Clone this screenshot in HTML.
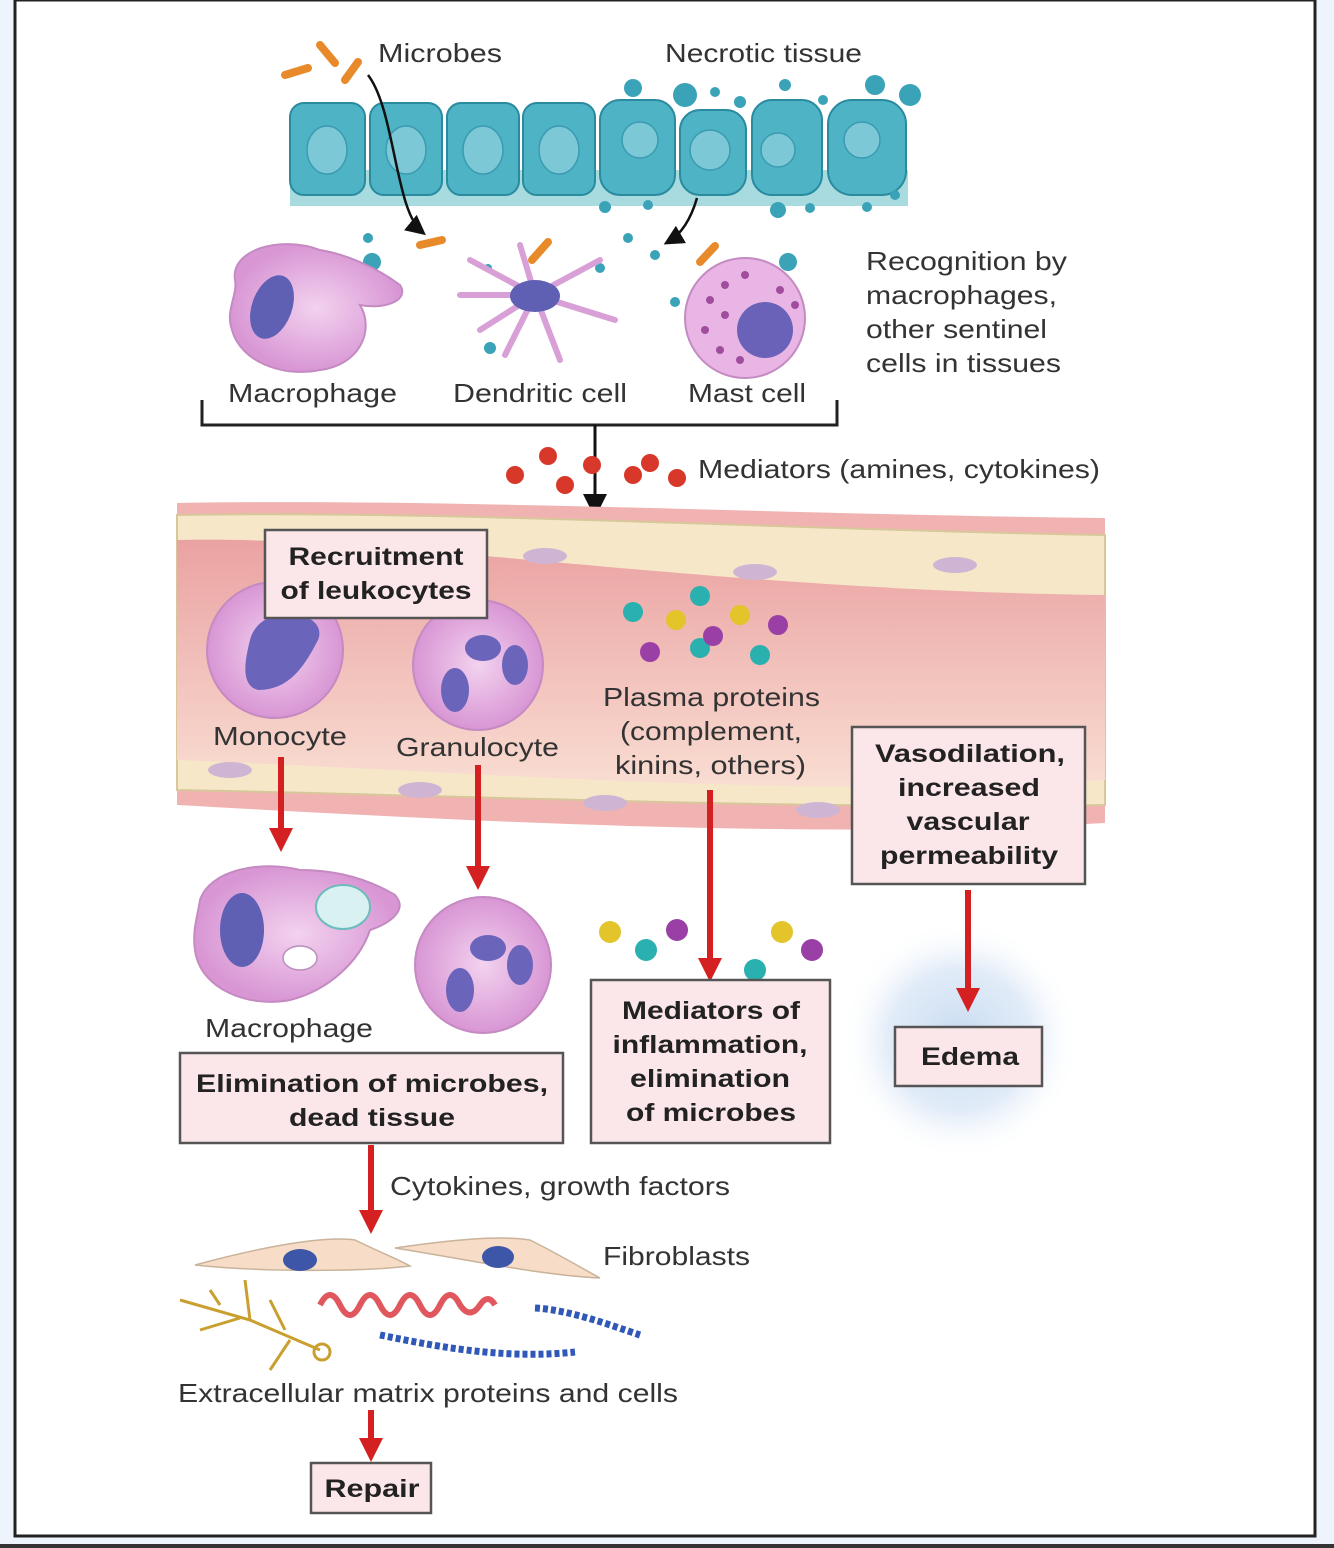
<!DOCTYPE html>
<html><head><meta charset="utf-8"><style>
html,body{margin:0;padding:0;background:#eef4fc;}
svg{display:block}
text{font-family:"Liberation Sans",sans-serif;fill:#333;}
.l{font-size:26px;}
.b{font-size:25px;font-weight:bold;fill:#222;text-anchor:middle;}
.box{fill:#fbe6ea;stroke:#555;stroke-width:2.5;}
.ep{fill:#4fb3c6;stroke:#2a8a9e;stroke-width:2;}
.nuc{fill:#7cc8d6;stroke:#3a9bb0;stroke-width:1.5;}
.ra{stroke:#d42020;stroke-width:6;fill:none;}
</style></head><body>
<svg width="1334" height="1548" viewBox="0 0 1334 1548" xmlns="http://www.w3.org/2000/svg">
<defs>
<marker id="rh" markerWidth="4" markerHeight="4" refX="2" refY="2" orient="auto" markerUnits="strokeWidth"><path d="M0,0 L4,2 L0,4 z" fill="#d42020"/></marker>
<marker id="bh" markerWidth="8" markerHeight="8" refX="6" refY="4" orient="auto" markerUnits="strokeWidth"><path d="M0,0 L8,4 L0,8 z" fill="#111"/></marker>
<radialGradient id="glow"><stop offset="0" stop-color="#c9dcf2"/><stop offset="0.6" stop-color="#e2ecf8"/><stop offset="1" stop-color="#fff" stop-opacity="0"/></radialGradient>
<linearGradient id="lum" x1="0" y1="0" x2="0" y2="1"><stop offset="0" stop-color="#eaa2a2"/><stop offset="1" stop-color="#f9ddd2"/></linearGradient>
<radialGradient id="cellg"><stop offset="0" stop-color="#f3d2ef"/><stop offset="1" stop-color="#d896d4"/></radialGradient>
</defs>
<rect x="0" y="0" width="1334" height="1548" fill="#eef4fc"/>
<rect x="15" y="0" width="1300" height="1536" fill="#fff" stroke="#222" stroke-width="3"/>
<rect x="0" y="1544" width="1334" height="4" fill="#333"/>

<rect x="290" y="170" width="618" height="36" fill="#a7dbe0"/>
<g>
<rect class="ep" x="290" y="103" width="75" height="92" rx="14"/><ellipse class="nuc" cx="327" cy="150" rx="20" ry="24"/>
<rect class="ep" x="370" y="103" width="72" height="92" rx="14"/><ellipse class="nuc" cx="406" cy="150" rx="20" ry="24"/>
<rect class="ep" x="447" y="103" width="72" height="92" rx="14"/><ellipse class="nuc" cx="483" cy="150" rx="20" ry="24"/>
<rect class="ep" x="523" y="103" width="72" height="92" rx="14"/><ellipse class="nuc" cx="559" cy="150" rx="20" ry="24"/>
<rect class="ep" x="600" y="100" width="75" height="95" rx="20" fill="#46a9bb"/><circle class="nuc" cx="640" cy="140" r="18"/>
<rect class="ep" x="680" y="110" width="66" height="85" rx="20" fill="#46a9bb"/><circle class="nuc" cx="710" cy="150" r="20"/>
<rect class="ep" x="752" y="100" width="70" height="95" rx="20" fill="#46a9bb"/><circle class="nuc" cx="778" cy="150" r="17"/>
<rect class="ep" x="828" y="100" width="78" height="95" rx="24" fill="#52aebf"/><circle class="nuc" cx="862" cy="140" r="18"/>
</g>
<g fill="#3aa3b8">
<circle cx="633" cy="88" r="9"/><circle cx="685" cy="95" r="12"/><circle cx="715" cy="92" r="5"/><circle cx="740" cy="102" r="6"/><circle cx="785" cy="85" r="6"/><circle cx="823" cy="100" r="5"/><circle cx="875" cy="85" r="10"/><circle cx="910" cy="95" r="11"/>
<circle cx="605" cy="207" r="6"/><circle cx="648" cy="205" r="5"/><circle cx="778" cy="210" r="8"/><circle cx="810" cy="208" r="5"/><circle cx="867" cy="207" r="5"/><circle cx="895" cy="195" r="5"/>
<circle cx="372" cy="262" r="9"/><circle cx="368" cy="238" r="5"/><circle cx="628" cy="238" r="5"/><circle cx="655" cy="255" r="5"/><circle cx="788" cy="262" r="9"/><circle cx="600" cy="268" r="5"/><circle cx="490" cy="348" r="6"/><circle cx="675" cy="302" r="5"/><circle cx="488" cy="268" r="4"/>
</g>
<g stroke="#e88a2a" stroke-width="8" stroke-linecap="round">
<line x1="320" y1="45" x2="335" y2="63"/><line x1="285" y1="75" x2="308" y2="68"/><line x1="345" y1="80" x2="358" y2="62"/>
<line x1="420" y1="245" x2="442" y2="240"/><line x1="340" y1="285" x2="365" y2="292"/><line x1="532" y1="260" x2="548" y2="242"/><line x1="700" y1="262" x2="715" y2="246"/>
</g>
<text class="l" x="378" y="62" textLength="124" lengthAdjust="spacingAndGlyphs">Microbes</text>
<text class="l" x="665" y="62" textLength="197" lengthAdjust="spacingAndGlyphs">Necrotic tissue</text>
<path d="M368,75 C395,110 395,210 422,232" stroke="#111" stroke-width="2.5" fill="none" marker-end="url(#bh)"/>
<path d="M697,198 C690,222 680,235 668,242" stroke="#111" stroke-width="2.5" fill="none" marker-end="url(#bh)"/>

<path d="M235,280 C230,250 280,235 320,250 C350,255 380,270 400,285 C410,300 385,310 360,305 C375,330 360,365 320,370 C280,378 240,360 232,330 C225,310 238,295 235,280z" fill="url(#cellg)" stroke="#c58ac2" stroke-width="2"/>
<ellipse cx="272" cy="307" rx="20" ry="33" fill="#5f5fb4" transform="rotate(20 272 307)"/>
<g stroke="#d9a0d8" stroke-width="6" stroke-linecap="round" fill="none">
<path d="M535,295 L470,260 M535,295 L480,330 M535,295 L520,245 M535,295 L600,260 M535,295 L615,320 M535,295 L560,360 M535,295 L505,355 M535,295 L460,295"/>
</g>
<ellipse cx="535" cy="296" rx="25" ry="16" fill="#5f5fb4"/>
<circle cx="745" cy="318" r="60" fill="#e8b5e4" stroke="#c58ac2" stroke-width="2"/>
<circle cx="765" cy="330" r="28" fill="#6a62b8"/>
<g fill="#a14d9e"><circle cx="710" cy="300" r="4"/><circle cx="725" cy="285" r="4"/><circle cx="745" cy="275" r="4"/><circle cx="705" cy="330" r="4"/><circle cx="720" cy="350" r="4"/><circle cx="740" cy="360" r="4"/><circle cx="780" cy="290" r="4"/><circle cx="795" cy="305" r="4"/><circle cx="725" cy="315" r="4"/></g>
<text class="l" x="228" y="402" textLength="169" lengthAdjust="spacingAndGlyphs">Macrophage</text>
<text class="l" x="453" y="402" textLength="174" lengthAdjust="spacingAndGlyphs">Dendritic cell</text>
<text class="l" x="688" y="402" textLength="118" lengthAdjust="spacingAndGlyphs">Mast cell</text>
<text class="l" x="866" y="270" textLength="201" lengthAdjust="spacingAndGlyphs">Recognition by</text>
<text class="l" x="866" y="304" textLength="191" lengthAdjust="spacingAndGlyphs">macrophages,</text>
<text class="l" x="866" y="338" textLength="181" lengthAdjust="spacingAndGlyphs">other sentinel</text>
<text class="l" x="866" y="372" textLength="195" lengthAdjust="spacingAndGlyphs">cells in tissues</text>
<path d="M202,400 V425 H837 V400" stroke="#222" stroke-width="3" fill="none"/>
<line x1="595" y1="425" x2="595" y2="512" stroke="#111" stroke-width="3" marker-end="url(#bh)"/>
<g fill="#d8382a"><circle cx="515" cy="475" r="9"/><circle cx="548" cy="456" r="9"/><circle cx="565" cy="485" r="9"/><circle cx="592" cy="465" r="9"/><circle cx="633" cy="475" r="9"/><circle cx="650" cy="463" r="9"/><circle cx="677" cy="478" r="9"/></g>
<text class="l" x="698" y="478" textLength="402" lengthAdjust="spacingAndGlyphs">Mediators (amines, cytokines)</text>

<path d="M177,503 C450,498 800,515 1105,518 L1105,823 C800,840 450,820 177,805 Z" fill="#f0b3b1"/>
<path d="M177,515 C450,510 800,530 1105,535 L1105,805 C800,810 450,795 177,790 Z" fill="#f6e7c9" stroke="#d8c79a" stroke-width="2"/>
<path d="M177,540 C400,535 700,590 1105,595 L1105,780 C800,800 450,770 177,760 Z" fill="url(#lum)"/>
<g fill="#cfb5d3"><ellipse cx="545" cy="556" rx="22" ry="8"/><ellipse cx="755" cy="572" rx="22" ry="8"/><ellipse cx="955" cy="565" rx="22" ry="8"/><ellipse cx="230" cy="770" rx="22" ry="8"/><ellipse cx="420" cy="790" rx="22" ry="8"/><ellipse cx="605" cy="803" rx="22" ry="8"/><ellipse cx="818" cy="810" rx="22" ry="8"/></g>

<circle cx="275" cy="650" r="68" fill="url(#cellg)" stroke="#c58ac2" stroke-width="2"/>
<path d="M250,640 C260,600 330,610 318,640 C305,665 290,690 258,690 C240,685 245,660 250,640z" fill="#6a64bb"/>
<circle cx="478" cy="665" r="65" fill="url(#cellg)" stroke="#c58ac2" stroke-width="2"/>
<g fill="#6a64bb"><ellipse cx="455" cy="690" rx="14" ry="22"/><ellipse cx="483" cy="648" rx="18" ry="13"/><ellipse cx="515" cy="665" rx="13" ry="20"/></g>
<rect class="box" x="265" y="530" width="222" height="88"/>
<text class="b" x="376" y="565" textLength="175" lengthAdjust="spacingAndGlyphs">Recruitment</text>
<text class="b" x="376" y="599" textLength="191" lengthAdjust="spacingAndGlyphs">of leukocytes</text>
<text class="l" x="213" y="745" textLength="134" lengthAdjust="spacingAndGlyphs">Monocyte</text>
<text class="l" x="396" y="756" textLength="163" lengthAdjust="spacingAndGlyphs">Granulocyte</text>

<g><circle cx="633" cy="612" r="10" fill="#2bb0b0"/><circle cx="700" cy="596" r="10" fill="#2bb0b0"/><circle cx="676" cy="620" r="10" fill="#e3c42a"/><circle cx="740" cy="615" r="10" fill="#e3c42a"/><circle cx="778" cy="625" r="10" fill="#9a3fa6"/><circle cx="650" cy="652" r="10" fill="#9a3fa6"/><circle cx="700" cy="648" r="10" fill="#2bb0b0"/><circle cx="713" cy="636" r="10" fill="#9a3fa6"/><circle cx="760" cy="655" r="10" fill="#2bb0b0"/></g>
<text class="l" x="603" y="706" textLength="217" lengthAdjust="spacingAndGlyphs">Plasma proteins</text>
<text class="l" x="620" y="740" textLength="182" lengthAdjust="spacingAndGlyphs">(complement,</text>
<text class="l" x="615" y="774" textLength="191" lengthAdjust="spacingAndGlyphs">kinins, others)</text>

<circle cx="960" cy="1040" r="120" fill="url(#glow)"/>

<rect class="box" x="852" y="727" width="233" height="157"/>
<text class="b" x="970" y="762" textLength="190" lengthAdjust="spacingAndGlyphs">Vasodilation,</text>
<text class="b" x="969" y="796" textLength="142" lengthAdjust="spacingAndGlyphs">increased</text>
<text class="b" x="968" y="830" textLength="123" lengthAdjust="spacingAndGlyphs">vascular</text>
<text class="b" x="969" y="864" textLength="178" lengthAdjust="spacingAndGlyphs">permeability</text>

<line class="ra" x1="281" y1="757" x2="281" y2="840" marker-end="url(#rh)"/>
<line class="ra" x1="478" y1="765" x2="478" y2="878" marker-end="url(#rh)"/>
<line class="ra" x1="710" y1="790" x2="710" y2="970" marker-end="url(#rh)"/>
<line class="ra" x1="968" y1="890" x2="968" y2="1000" marker-end="url(#rh)"/>
<line class="ra" x1="371" y1="1145" x2="371" y2="1222" marker-end="url(#rh)"/>
<line class="ra" x1="371" y1="1410" x2="371" y2="1450" marker-end="url(#rh)"/>

<path d="M200,900 C210,870 260,860 300,870 C340,870 370,880 395,895 C410,912 385,925 370,930 C360,960 330,990 290,1000 C250,1008 200,990 195,950 C192,930 198,915 200,900z" fill="url(#cellg)" stroke="#c58ac2" stroke-width="2"/>
<ellipse cx="242" cy="930" rx="22" ry="37" fill="#5f5fb4"/>
<ellipse cx="343" cy="907" rx="27" ry="22" fill="#d9f1f0" stroke="#6bbcbc" stroke-width="2"/>
<ellipse cx="300" cy="958" rx="17" ry="12" fill="#fff" stroke="#b98fbd" stroke-width="1.5"/>
<circle cx="483" cy="965" r="68" fill="url(#cellg)" stroke="#c58ac2" stroke-width="2"/>
<g fill="#6a64bb"><ellipse cx="460" cy="990" rx="14" ry="22"/><ellipse cx="488" cy="948" rx="18" ry="13"/><ellipse cx="520" cy="965" rx="13" ry="20"/></g>
<text class="l" x="205" y="1037" textLength="168" lengthAdjust="spacingAndGlyphs">Macrophage</text>

<g><circle cx="610" cy="932" r="11" fill="#e3c42a"/><circle cx="646" cy="950" r="11" fill="#2bb0b0"/><circle cx="677" cy="930" r="11" fill="#9a3fa6"/><circle cx="782" cy="932" r="11" fill="#e3c42a"/><circle cx="812" cy="950" r="11" fill="#9a3fa6"/><circle cx="755" cy="970" r="11" fill="#2bb0b0"/></g>

<rect class="box" x="591" y="980" width="239" height="163"/>
<text class="b" x="711" y="1019" textLength="178" lengthAdjust="spacingAndGlyphs">Mediators of</text>
<text class="b" x="710" y="1053" textLength="195" lengthAdjust="spacingAndGlyphs">inflammation,</text>
<text class="b" x="710" y="1087" textLength="160" lengthAdjust="spacingAndGlyphs">elimination</text>
<text class="b" x="711" y="1121" textLength="170" lengthAdjust="spacingAndGlyphs">of microbes</text>

<rect class="box" x="895" y="1027" width="147" height="59"/>
<text class="b" x="970" y="1065" textLength="98" lengthAdjust="spacingAndGlyphs">Edema</text>

<rect class="box" x="180" y="1053" width="383" height="90"/>
<text class="b" x="372" y="1092" textLength="352" lengthAdjust="spacingAndGlyphs">Elimination of microbes,</text>
<text class="b" x="372" y="1126" textLength="166" lengthAdjust="spacingAndGlyphs">dead tissue</text>

<text class="l" x="390" y="1195" textLength="340" lengthAdjust="spacingAndGlyphs">Cytokines, growth factors</text>

<path d="M195,1265 C250,1250 320,1235 355,1240 C375,1250 400,1260 410,1266 C360,1272 260,1272 195,1265z" fill="#f7dcc8" stroke="#c9b39a" stroke-width="1.5"/>
<ellipse cx="300" cy="1260" rx="17" ry="11" fill="#3d56a8"/>
<path d="M395,1248 C450,1240 500,1235 530,1240 C560,1255 585,1270 600,1278 C540,1275 470,1260 395,1248z" fill="#f7dcc8" stroke="#c9b39a" stroke-width="1.5"/>
<ellipse cx="498" cy="1257" rx="16" ry="11" fill="#3d56a8"/>
<text class="l" x="603" y="1265" textLength="147" lengthAdjust="spacingAndGlyphs">Fibroblasts</text>
<path d="M320,1305 q10,-20 20,0 q10,20 20,0 q10,-20 20,0 q10,20 20,0 q10,-20 20,0 q10,20 20,0 q10,-20 20,0 q10,15 20,0 q8,-12 15,0" stroke="#e0585e" stroke-width="6" fill="none"/>
<path d="M380,1335 C430,1345 500,1360 575,1352" stroke="#2f58b8" stroke-width="7" stroke-dasharray="5,3" fill="none"/>
<path d="M535,1308 C570,1310 610,1325 640,1335" stroke="#2f58b8" stroke-width="7" stroke-dasharray="5,3" fill="none"/>
<g stroke="#c9a030" stroke-width="3" fill="none"><path d="M180,1300 L250,1320 L320,1350 M210,1290 L220,1305 M245,1280 L250,1320 M270,1300 L285,1330 M200,1330 L240,1318 M290,1340 L270,1370"/><circle cx="322" cy="1352" r="8"/></g>
<text class="l" x="178" y="1402" textLength="500" lengthAdjust="spacingAndGlyphs">Extracellular matrix proteins and cells</text>

<rect class="box" x="311" y="1463" width="120" height="50"/>
<text class="b" x="372" y="1497" textLength="95" lengthAdjust="spacingAndGlyphs">Repair</text>
</svg>
</body></html>
